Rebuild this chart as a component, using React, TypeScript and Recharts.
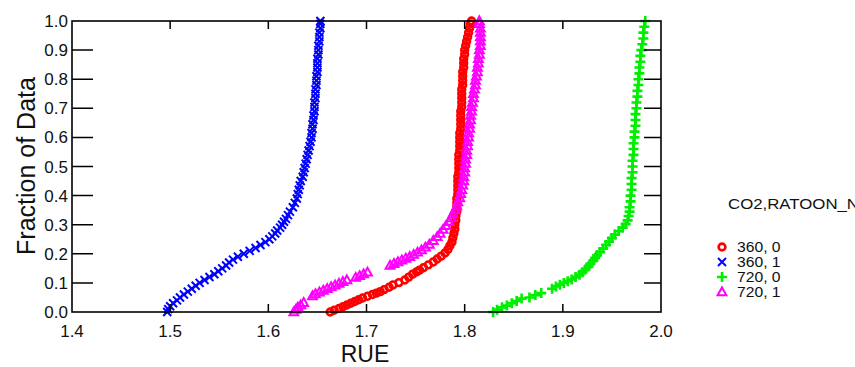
import React from "react";
import { ScatterChart, Scatter, XAxis, YAxis } from "recharts";

type Pt = [number, number]; // [RUE, fraction of data]

const xTicks = [1.4, 1.5, 1.6, 1.7, 1.8, 1.9, 2.0];
const yTicks = [0, 0.1, 0.2, 0.3, 0.4, 0.5, 0.6, 0.7, 0.8, 0.9, 1.0];

const legendTitle = "CO2,RATOON_N";

// CO2 360, RATOON 0
const co2_360_r0: Pt[] = [
  [1.663, 0.0], [1.667, 0.006], [1.672, 0.012], [1.676, 0.018], [1.68, 0.024], [1.684, 0.03],
  [1.688, 0.036], [1.692, 0.042], [1.696, 0.048], [1.701, 0.054], [1.706, 0.06], [1.71, 0.065],
  [1.714, 0.07], [1.718, 0.077], [1.723, 0.085], [1.727, 0.093], [1.733, 0.101], [1.739, 0.11],
  [1.743, 0.12], [1.747, 0.13], [1.751, 0.138], [1.754, 0.144], [1.758, 0.152], [1.763, 0.162],
  [1.768, 0.172], [1.772, 0.182], [1.776, 0.192], [1.78, 0.203], [1.783, 0.215], [1.785, 0.228],
  [1.787, 0.24], [1.788, 0.255], [1.789, 0.27], [1.79, 0.285], [1.79, 0.3], [1.791, 0.315],
  [1.791, 0.33], [1.792, 0.345], [1.792, 0.36], [1.792, 0.375], [1.792, 0.39], [1.793, 0.405],
  [1.793, 0.42], [1.793, 0.435], [1.793, 0.45], [1.793, 0.465], [1.794, 0.48], [1.794, 0.495],
  [1.794, 0.51], [1.794, 0.525], [1.794, 0.54], [1.795, 0.555], [1.795, 0.57], [1.795, 0.585],
  [1.795, 0.6], [1.795, 0.615], [1.796, 0.63], [1.796, 0.645], [1.796, 0.66], [1.796, 0.675],
  [1.796, 0.69], [1.797, 0.705], [1.797, 0.72], [1.797, 0.735], [1.797, 0.75], [1.797, 0.765],
  [1.798, 0.78], [1.798, 0.795], [1.798, 0.81], [1.798, 0.825], [1.799, 0.84], [1.799, 0.855],
  [1.799, 0.87], [1.8, 0.885], [1.8, 0.9], [1.801, 0.915], [1.802, 0.93], [1.803, 0.945],
  [1.804, 0.96], [1.805, 0.975], [1.806, 0.99], [1.807, 1.0],
];

// CO2 360, RATOON 1
const co2_360_r1: Pt[] = [
  [1.497, 0.0], [1.498, 0.01], [1.5, 0.02], [1.503, 0.03], [1.507, 0.04], [1.51, 0.05],
  [1.514, 0.06], [1.518, 0.07], [1.522, 0.08], [1.526, 0.09], [1.53, 0.1], [1.535, 0.11],
  [1.54, 0.12], [1.545, 0.13], [1.549, 0.14], [1.553, 0.15], [1.557, 0.16], [1.56, 0.17],
  [1.564, 0.18], [1.569, 0.19], [1.575, 0.2], [1.581, 0.21], [1.587, 0.22], [1.592, 0.23],
  [1.597, 0.24], [1.601, 0.25], [1.604, 0.26], [1.607, 0.27], [1.609, 0.28], [1.612, 0.29],
  [1.614, 0.3], [1.616, 0.31], [1.618, 0.32], [1.62, 0.333], [1.622, 0.345], [1.625, 0.36],
  [1.627, 0.375], [1.629, 0.39], [1.63, 0.405], [1.631, 0.42], [1.632, 0.435], [1.633, 0.45],
  [1.635, 0.465], [1.636, 0.48], [1.637, 0.495], [1.638, 0.51], [1.639, 0.525], [1.64, 0.54],
  [1.641, 0.555], [1.642, 0.57], [1.643, 0.585], [1.644, 0.6], [1.644, 0.615], [1.645, 0.63],
  [1.645, 0.645], [1.646, 0.66], [1.646, 0.675], [1.647, 0.69], [1.647, 0.705], [1.647, 0.72],
  [1.648, 0.735], [1.648, 0.75], [1.648, 0.765], [1.649, 0.78], [1.649, 0.795], [1.649, 0.81],
  [1.65, 0.825], [1.65, 0.84], [1.65, 0.855], [1.65, 0.87], [1.651, 0.885], [1.651, 0.9],
  [1.651, 0.915], [1.652, 0.93], [1.652, 0.945], [1.652, 0.96], [1.653, 0.975], [1.653, 0.99],
  [1.653, 1.0],
];

// CO2 720, RATOON 0
const co2_720_r0: Pt[] = [
  [1.829, 0.0], [1.833, 0.008], [1.838, 0.016], [1.843, 0.022], [1.848, 0.03], [1.853, 0.038],
  [1.858, 0.046], [1.866, 0.05], [1.872, 0.058], [1.878, 0.065], [1.889, 0.08], [1.893, 0.088],
  [1.897, 0.094], [1.901, 0.1], [1.905, 0.106], [1.909, 0.112], [1.913, 0.12], [1.917, 0.128],
  [1.92, 0.137], [1.923, 0.146], [1.926, 0.156], [1.928, 0.166], [1.931, 0.176], [1.933, 0.186],
  [1.935, 0.196], [1.938, 0.206], [1.941, 0.218], [1.944, 0.23], [1.947, 0.242], [1.95, 0.254],
  [1.953, 0.266], [1.957, 0.278], [1.961, 0.29], [1.964, 0.302], [1.966, 0.315], [1.967, 0.33],
  [1.968, 0.345], [1.968, 0.36], [1.969, 0.38], [1.969, 0.4], [1.97, 0.42], [1.97, 0.44],
  [1.97, 0.46], [1.971, 0.48], [1.971, 0.5], [1.971, 0.52], [1.972, 0.54], [1.972, 0.56],
  [1.972, 0.58], [1.973, 0.6], [1.973, 0.62], [1.974, 0.64], [1.974, 0.66], [1.974, 0.68],
  [1.975, 0.7], [1.975, 0.72], [1.976, 0.74], [1.976, 0.76], [1.977, 0.78], [1.977, 0.8],
  [1.978, 0.82], [1.978, 0.84], [1.979, 0.86], [1.979, 0.88], [1.98, 0.9], [1.981, 0.92],
  [1.982, 0.94], [1.982, 0.96], [1.983, 0.98], [1.984, 1.0],
];

// CO2 720, RATOON 1
const co2_720_r1: Pt[] = [
  [1.626, 0.0], [1.628, 0.008], [1.63, 0.016], [1.633, 0.024], [1.636, 0.032],
  [1.645, 0.055], [1.648, 0.062], [1.652, 0.068], [1.656, 0.074], [1.66, 0.08], [1.664, 0.086],
  [1.668, 0.092], [1.672, 0.098], [1.676, 0.104], [1.68, 0.11],
  [1.689, 0.118], [1.693, 0.124], [1.697, 0.13], [1.701, 0.136],
  [1.724, 0.16], [1.728, 0.166], [1.732, 0.172], [1.736, 0.178], [1.74, 0.184], [1.744, 0.19],
  [1.748, 0.197], [1.752, 0.205], [1.756, 0.213], [1.76, 0.222], [1.764, 0.232], [1.768, 0.245],
  [1.772, 0.258], [1.775, 0.27], [1.778, 0.283], [1.781, 0.296], [1.784, 0.31], [1.786, 0.323],
  [1.788, 0.337], [1.79, 0.35], [1.792, 0.364], [1.793, 0.378], [1.795, 0.392], [1.796, 0.406],
  [1.797, 0.42], [1.798, 0.435], [1.799, 0.45], [1.799, 0.465], [1.8, 0.48], [1.8, 0.495],
  [1.801, 0.51], [1.801, 0.525], [1.802, 0.54], [1.802, 0.555], [1.803, 0.57], [1.803, 0.585],
  [1.804, 0.6], [1.804, 0.615], [1.805, 0.63], [1.805, 0.645], [1.806, 0.66], [1.806, 0.675],
  [1.807, 0.69], [1.807, 0.705], [1.808, 0.72], [1.809, 0.735], [1.809, 0.75], [1.81, 0.765],
  [1.811, 0.78], [1.811, 0.795], [1.812, 0.81], [1.813, 0.825], [1.813, 0.84], [1.814, 0.855],
  [1.814, 0.87], [1.815, 0.885], [1.815, 0.9], [1.816, 0.915], [1.816, 0.93], [1.816, 0.945],
  [1.816, 0.96], [1.816, 0.975], [1.815, 0.99], [1.815, 1.0],
];

type Kind = "circle" | "x" | "plus" | "triangle";

const series: { name: string; color: string; kind: Kind; data: Pt[] }[] = [
  { name: "360, 0", color: "#ff0000", kind: "circle", data: co2_360_r0 },
  { name: "360, 1", color: "#0000ff", kind: "x", data: co2_360_r1 },
  { name: "720, 0", color: "#00ee00", kind: "plus", data: co2_720_r0 },
  { name: "720, 1", color: "#ff00ff", kind: "triangle", data: co2_720_r1 },
];

const INK = "#111";
const FONT = "'Liberation Sans', Arial, sans-serif";

// plot box inside the 855x367 surface
const PLOT = { left: 72, top: 21, right: 661, bottom: 312 };
const X_DOMAIN: [number, number] = [1.4, 2.0];
const Y_DOMAIN: [number, number] = [0, 1];

function Marker({ kind, cx, cy, color }: { kind: Kind; cx: number; cy: number; color: string }) {
  if (kind === "circle")
    return <circle cx={cx} cy={cy} r={3.4} fill="none" stroke={color} strokeWidth={2.6} />;
  if (kind === "x")
    return (
      <path
        d={`M${cx - 4},${cy - 4}L${cx + 4},${cy + 4}M${cx - 4},${cy + 4}L${cx + 4},${cy - 4}`}
        stroke={color}
        strokeWidth={2}
      />
    );
  if (kind === "plus")
    return (
      <path
        d={`M${cx - 5},${cy}L${cx + 5},${cy}M${cx},${cy - 5}L${cx},${cy + 5}`}
        stroke={color}
        strokeWidth={2.6}
      />
    );
  return (
    <path
      d={`M${cx},${cy - 4.6}L${cx + 4.4},${cy + 3.2}L${cx - 4.4},${cy + 3.2}Z`}
      fill="none"
      stroke={color}
      strokeWidth={2}
    />
  );
}

// tick labels; the axes use tickSize 0 so x/y sits on the axis line
const BottomTick = (props: any) => (
  <text x={Number(props.x)} y={Number(props.y) + 25} textAnchor="middle" fontSize={17} fontFamily={FONT} fill={INK}>
    {Number(props.payload.value).toFixed(1)}
  </text>
);

const LeftTick = (props: any) => (
  <text x={Number(props.x) - 4} y={Number(props.y) + 6} textAnchor="end" fontSize={17} fontFamily={FONT} fill={INK}>
    {Number(props.payload.value).toFixed(1)}
  </text>
);

// boxed frame with inward ticks on all four sides, laid over the chart
function Frame() {
  const w = PLOT.right - PLOT.left;
  const h = PLOT.bottom - PLOT.top;
  const sx = (v: number) => PLOT.left + ((v - X_DOMAIN[0]) / (X_DOMAIN[1] - X_DOMAIN[0])) * w;
  const sy = (v: number) => PLOT.bottom - ((v - Y_DOMAIN[0]) / (Y_DOMAIN[1] - Y_DOMAIN[0])) * h;
  let d = "";
  xTicks.slice(1, -1).forEach((v) => {
    const x = sx(v);
    d += `M${x},${PLOT.bottom}V${PLOT.bottom - 8}M${x},${PLOT.top}V${PLOT.top + 8}`;
  });
  yTicks.slice(1, -1).forEach((v) => {
    const y = sy(v);
    d += `M${PLOT.left},${y}H${PLOT.left + 21}M${PLOT.right},${y}H${PLOT.right - 17}`;
  });
  return (
    <svg width={855} height={367} style={{ position: "absolute", left: 0, top: 0, pointerEvents: "none" }}>
      <rect x={PLOT.left} y={PLOT.top} width={w} height={h} fill="none" stroke="#000" strokeWidth={1.6} />
      <path d={d} stroke="#000" strokeWidth={1.5} fill="none" />
    </svg>
  );
}

export default function App() {
  return (
    <div style={{ position: "absolute", left: 0, top: 0, width: 855, height: 367, background: "#fff" }}>
      <ScatterChart
        width={855}
        height={367}
        margin={{ top: PLOT.top, right: 855 - PLOT.right, bottom: 25, left: 0 }}
      >
        <XAxis
          type="number"
          dataKey="rue"
          domain={X_DOMAIN}
          ticks={xTicks}
          height={367 - 25 - PLOT.bottom}
          tickSize={0}
          tickMargin={0}
          axisLine={false}
          tick={<BottomTick />}
        />
        <YAxis
          type="number"
          dataKey="frac"
          domain={Y_DOMAIN}
          ticks={yTicks}
          width={PLOT.left}
          tickSize={0}
          tickMargin={0}
          axisLine={false}
          tick={<LeftTick />}
        />
        {series.map((s) => (
          <Scatter
            key={s.name}
            name={s.name}
            data={s.data.map(([rue, frac]) => ({ rue, frac }))}
            isAnimationActive={false}
            shape={(p: any) => <Marker kind={s.kind} cx={p.cx} cy={p.cy} color={s.color} />}
          />
        ))}
      </ScatterChart>

      <Frame />

      {/* axis titles */}
      <div
        style={{
          position: "absolute",
          left: 365,
          top: 354,
          transform: "translate(-50%, -50%)",
          fontFamily: FONT,
          fontSize: 23,
          lineHeight: "23px",
          color: INK,
          whiteSpace: "nowrap",
        }}
      >
        RUE
      </div>
      <div
        style={{
          position: "absolute",
          left: 26,
          top: 166,
          transform: "translate(-50%, -50%) rotate(-90deg)",
          fontFamily: FONT,
          fontSize: 25,
          color: INK,
          whiteSpace: "nowrap",
        }}
      >
        Fraction of Data
      </div>

      {/* legend */}
      <div
        style={{
          position: "absolute",
          left: 728,
          top: 195,
          fontFamily: FONT,
          fontSize: 15,
          color: INK,
          whiteSpace: "nowrap",
          transform: "scaleX(1.12)",
          transformOrigin: "left center",
        }}
      >
        {legendTitle}
      </div>
      {series.map((s, i) => (
        <div
          key={s.name}
          style={{
            position: "absolute",
            left: 715,
            top: 239 + i * 15,
            height: 15,
            display: "flex",
            alignItems: "center",
            fontFamily: FONT,
            fontSize: 14,
            color: INK,
            whiteSpace: "nowrap",
          }}
        >
          <svg width={14} height={14} style={{ marginRight: 8 }}>
            <Marker kind={s.kind} cx={7} cy={7} color={s.color} />
          </svg>
          <span style={{ display: "inline-block", transform: "scaleX(1.12)", transformOrigin: "left center" }}>{s.name}</span>
        </div>
      ))}
    </div>
  );
}
